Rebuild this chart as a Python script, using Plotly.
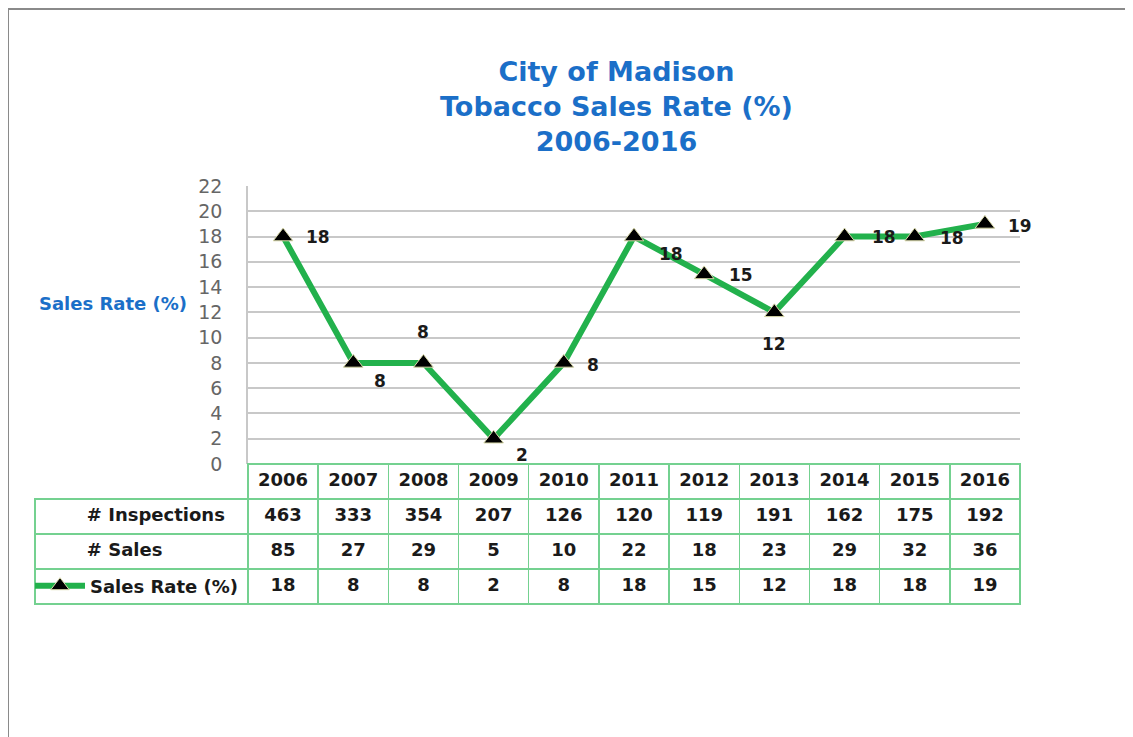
import plotly.graph_objects as go

years = ["2006", "2007", "2008", "2009", "2010", "2011", "2012", "2013", "2014", "2015", "2016"]
inspections = [463, 333, 354, 207, 126, 120, 119, 191, 162, 175, 192]
sales = [85, 27, 29, 5, 10, 22, 18, 23, 29, 32, 36]
sales_rate = [18, 8, 8, 2, 8, 18, 15, 12, 18, 18, 19]
row_labels = ["# Inspections", "# Sales", ""]

# data-label placement (pixel offsets from each marker: right, down)
label_offsets = [(35, 0), (27, 18), (0, -31), (28, 16), (29, 2), (37, 17),
                 (37, 1), (0, 32), (39, 0), (37, 1), (35, 2)]

W, H = 1133, 737
OFF = 8  # page body margin
FONT = "DejaVu Sans"
BLUE = "#1B6FC8"
GREEN = "#22B14C"
TGREEN = "#74D190"
TXT = "#1a1a1a"


def px_x(v):
    return (v - OFF) / W


def px_y(v):
    return 1 - (v - OFF) / H


fig = go.Figure()

xs = list(range(len(years)))

fig.add_trace(go.Scatter(
    x=xs, y=sales_rate,
    mode="lines+markers",
    name="Sales Rate (%)",
    line=dict(color=GREEN, width=6),
    marker=dict(symbol="triangle-up", size=17, color="black",
                line=dict(color="#d8d8a8", width=1)),
    cliponaxis=False,
    xaxis="x", yaxis="y",
))

# Years + values table
fig.add_trace(go.Table(
    domain=dict(x=[px_x(248), px_x(1020)], y=[px_y(650), px_y(464)]),
    columnwidth=[1] * len(years),
    header=dict(values=years, height=35, align="center",
                fill=dict(color="white"),
                line=dict(color=TGREEN, width=1.5),
                font=dict(family=FONT, size=18, color=TXT, weight="bold")),
    cells=dict(values=[[i, s, r] for i, s, r in zip(inspections, sales, sales_rate)],
               height=35, align="center",
               fill=dict(color="white"),
               line=dict(color=TGREEN, width=1.5),
               font=dict(family=FONT, size=18, color=TXT, weight="bold")),
))

# Row labels table
pad = "\u00a0" * 7
fig.add_trace(go.Table(
    domain=dict(x=[px_x(35), px_x(248)], y=[px_y(650), px_y(464)]),
    header=dict(values=[""], height=35,
                fill=dict(color="rgba(0,0,0,0)"),
                line=dict(color="rgba(0,0,0,0)", width=0)),
    cells=dict(values=[[pad + t if t else "" for t in row_labels]],
               height=35, align="left",
               fill=dict(color="white"),
               line=dict(color=TGREEN, width=1.5),
               font=dict(family=FONT, size=18, color=TXT, weight="bold")),
))

annotations = [
    dict(text="City of Madison<br>Tobacco Sales Rate (%)<br>2006-2016",
         x=px_x(616), y=px_y(107), xref="paper", yref="paper",
         xanchor="center", yanchor="middle", showarrow=False,
         font=dict(family=FONT, size=27, color=BLUE, weight="bold"),
         align="center"),
    dict(text="Sales Rate (%)", x=px_x(37), y=px_y(303), xref="paper", yref="paper",
         xanchor="left", yanchor="middle", showarrow=False,
         font=dict(family=FONT, size=18, color=BLUE, weight="bold")),
]
for xi, v, (dx, dy) in zip(xs, sales_rate, label_offsets):
    annotations.append(dict(
        text=str(v), x=xi, y=v, xref="x", yref="y",
        xanchor="center", yanchor="middle", showarrow=False,
        xshift=dx, yshift=-dy,
        font=dict(family=FONT, size=17, color=TXT, weight="bold"),
    ))

fig.update_layout(
    width=W, height=H,
    margin=dict(l=0, r=0, t=0, b=0, autoexpand=False),
    paper_bgcolor="white", plot_bgcolor="white",
    showlegend=True,
    legend=dict(x=px_x(30), y=px_y(586), xanchor="left", yanchor="middle",
                bgcolor="rgba(0,0,0,0)", itemwidth=50,
                font=dict(family=FONT, size=18, color=TXT, weight="bold")),
    xaxis=dict(domain=[px_x(248), px_x(1020)], range=[-0.5, len(years) - 0.5],
               showgrid=False, zeroline=False, showticklabels=False, showline=False,
               automargin=False),
    yaxis=dict(domain=[px_y(464), px_y(186)], range=[0, 22], dtick=2,
               showgrid=True, gridcolor="#c8c8c8", gridwidth=1.5,
               zeroline=False, showline=True, linecolor="#c8c8c8", linewidth=1.5,
               ticks="outside", ticklen=0, ticklabelstandoff=20, automargin=False,
               tickfont=dict(family=FONT, size=19, color="#666666")),
    annotations=annotations,
    shapes=[
        dict(type="rect", xref="paper", yref="paper",
             x0=px_x(8), x1=1.02, y0=-0.05, y1=px_y(9),
             line=dict(color="#8a8a8a", width=2)),
    ],
)

fig.write_html("out.html")
